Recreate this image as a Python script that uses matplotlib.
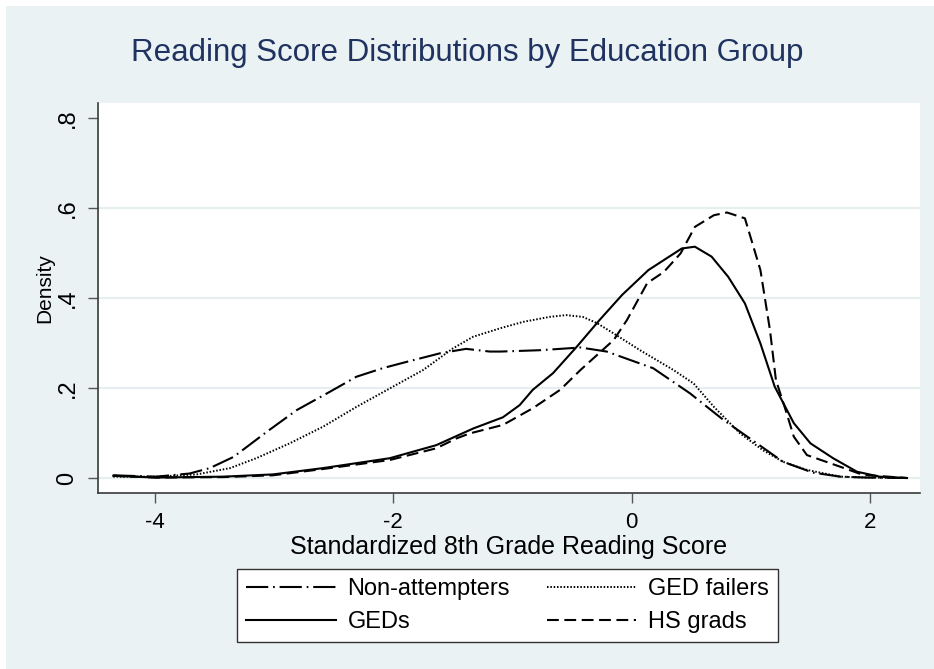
import matplotlib
matplotlib.use("Agg")
import matplotlib.pyplot as plt
from matplotlib.patches import Rectangle

# ---- data ----
na_x = [-4.35, -3.99, -3.71, -3.54, -3.34, -3.06, -2.81, -2.53, -2.31, -2.09, -1.89, -1.61,
        -1.39, -1.19, -1.10, -0.77, -0.43, -0.21, -0.01, 0.18, 0.49, 0.77, 1.05, 1.27, 1.52,
        1.75, 1.97, 2.31]
na_y = [0.006, 0.003, 0.010, 0.022, 0.047, 0.103, 0.151, 0.192, 0.225, 0.244, 0.258, 0.277,
        0.287, 0.281, 0.281, 0.284, 0.290, 0.281, 0.262, 0.244, 0.188, 0.129, 0.077, 0.036,
        0.012, 0.003, 0.001, 0.000]

gf_x = [-4.35, -3.99, -3.65, -3.37, -3.15, -2.87, -2.59, -2.31, -2.03, -1.75, -1.50, -1.33,
        -1.10, -0.91, -0.69, -0.55, -0.41, -0.29, -0.15, 0.07, 0.35, 0.52, 0.69, 0.91, 1.10,
        1.27, 1.47, 1.75, 1.97, 2.31]
gf_y = [0.003, 0.003, 0.008, 0.022, 0.044, 0.077, 0.114, 0.158, 0.199, 0.240, 0.288, 0.314,
        0.333, 0.347, 0.358, 0.362, 0.358, 0.344, 0.321, 0.284, 0.240, 0.210, 0.158, 0.099,
        0.062, 0.036, 0.018, 0.003, 0.001, 0.000]

ged_x = [-4.35, -3.99, -3.43, -3.01, -2.59, -2.31, -2.03, -1.64, -1.33, -1.08, -0.94, -0.83,
         -0.66, -0.46, -0.27, -0.08, 0.14, 0.42, 0.53, 0.67, 0.81, 0.95, 1.08, 1.20, 1.36,
         1.50, 1.69, 1.89, 2.08, 2.31]
ged_y = [0.005, 0.001, 0.003, 0.008, 0.022, 0.033, 0.044, 0.073, 0.110, 0.135, 0.162, 0.196,
         0.233, 0.292, 0.351, 0.407, 0.462, 0.510, 0.514, 0.492, 0.447, 0.388, 0.299, 0.203,
         0.122, 0.077, 0.044, 0.014, 0.003, 0.000]

hs_x = [-4.35, -3.99, -3.43, -3.01, -2.59, -2.31, -2.03, -1.64, -1.47, -1.36, -1.08, -0.83,
        -0.60, -0.43, -0.15, -0.04, 0.13, 0.27, 0.41, 0.53, 0.69, 0.80, 0.95, 1.08, 1.16,
        1.21, 1.30, 1.36, 1.47, 1.75, 1.94, 2.31]
hs_y = [0.005, 0.001, 0.002, 0.006, 0.020, 0.030, 0.040, 0.066, 0.088, 0.099, 0.118, 0.155,
        0.196, 0.240, 0.307, 0.351, 0.433, 0.458, 0.499, 0.558, 0.584, 0.590, 0.577, 0.462,
        0.329, 0.218, 0.144, 0.092, 0.051, 0.025, 0.007, 0.000]

x_ticks = [-4, -2, 0, 2]
x_ticklabels = ["-4", "-2", "0", "2"]
y_ticks = [0, 0.2, 0.4, 0.6, 0.8]
y_ticklabels = ["0", ".2", ".4", ".6", ".8"]
grid_levels = [0, 0.2, 0.4, 0.6]

title = "Reading Score Distributions by Education Group"
xlabel = "Standardized 8th Grade Reading Score"
ylabel = "Density"

# ---- styling ----
plt.rcParams["lines.scale_dashes"] = False
REG = ["Liberation Sans", "DejaVu Sans"]
BG = "#EAF2F3"
W, H = 934, 669

fig = plt.figure(figsize=(W / 100, H / 100), dpi=100)
fig.patch.set_facecolor("white")
fig.patches.append(Rectangle((6 / W, 0), 1 - 6 / W, (H - 6) / H, transform=fig.transFigure,
                             facecolor=BG, edgecolor="none", zorder=-10))

ax = fig.add_axes([98 / W, (H - 493) / H, (920 - 98) / W, (493 - 103) / H])
ax.set_zorder(1)
ax.set_facecolor("white")
ax.set_xlim(-4.478, 2.419)
ax.set_ylim(-0.0333, 0.8333)

for g in grid_levels:
    ax.axhline(g, color="#E6EEF0", lw=1.6, zorder=0.5)

lw = 1.5
l_na, = ax.plot(na_x, na_y, color="black", lw=lw, dashes=(16, 3.5, 1.2, 3.5), label="Non-attempters")
l_gf, = ax.plot(gf_x, gf_y, color="black", lw=1.4, dashes=(1.1, 1.3), label="GED failers")
l_ged, = ax.plot(ged_x, ged_y, color="black", lw=lw, label="GEDs")
l_hs, = ax.plot(hs_x, hs_y, color="black", lw=lw, dashes=(8.5, 4.0), label="HS grads")

for s in ["top", "right"]:
    ax.spines[s].set_visible(False)
for s in ["left", "bottom"]:
    ax.spines[s].set_color("#3a3a3a")
    ax.spines[s].set_linewidth(1.2)

ax.set_xticks(x_ticks)
ax.set_xticklabels(x_ticklabels, fontsize=16, family=REG)
ax.set_yticks(y_ticks)
ax.set_yticklabels(y_ticklabels, fontsize=17, family=REG, rotation=90, va="center")
ax.tick_params(axis="both", direction="out", length=7, width=1, color="#555555")
ax.tick_params(axis="x", pad=7)
ax.tick_params(axis="y", pad=7)

fig.text(0.5, 1 - 53 / H, title, ha="center", va="center", fontsize=22.5,
         color="#1F3260", family=REG)
fig.text(509 / W, 1 - 547 / H, xlabel, ha="center", va="center", fontsize=18,
         color="black", family=REG)
fig.text(45 / W, 1 - 288 / H, ylabel, ha="center", va="center", fontsize=15,
         color="black", family=REG, rotation=90)

leg = fig.legend([l_na, l_ged, l_gf, l_hs], ["Non-attempters", "GEDs", "GED failers", "HS grads"],
                 ncol=2, loc="center", bbox_to_anchor=(507.5 / W, (H - 605.5) / H),
                 prop={"family": REG, "size": 17}, frameon=True, fancybox=False,
                 handlelength=3.8, handletextpad=0.5, columnspacing=1.55,
                 labelspacing=0.45, borderpad=0.4, borderaxespad=0)
leg.get_frame().set_edgecolor("#333333")
leg.get_frame().set_linewidth(1.0)
leg.get_frame().set_facecolor("white")
leg.get_frame().set_alpha(1)

fig.savefig("out.png", dpi=100, facecolor=fig.get_facecolor())
